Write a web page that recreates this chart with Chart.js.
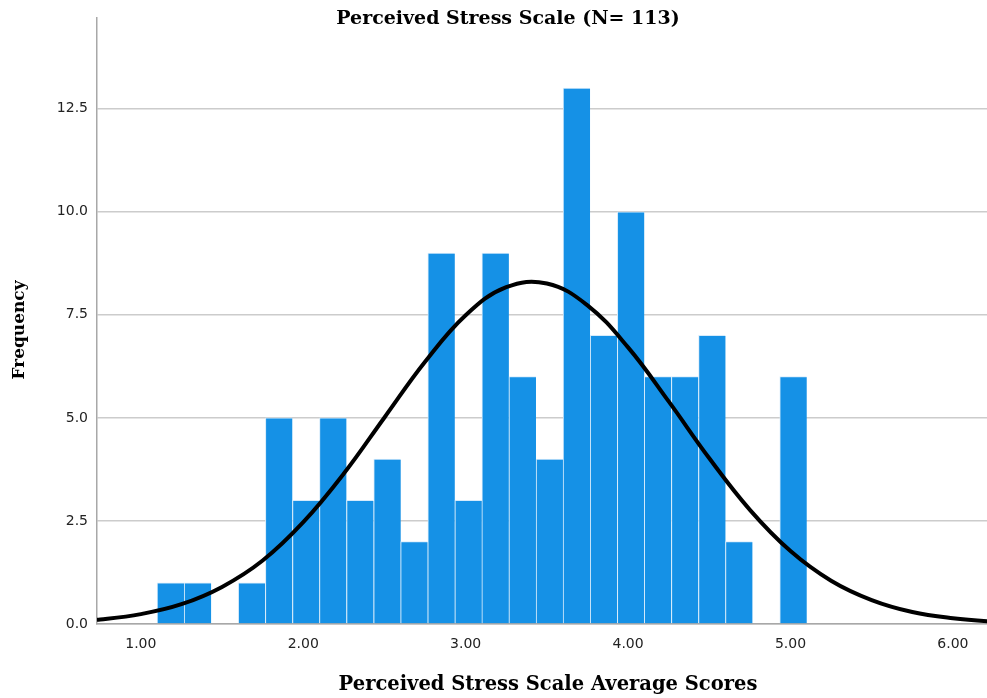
<!DOCTYPE html>
<html>
<head>
<meta charset="utf-8">
<script src="https://cdn.jsdelivr.net/npm/chart.js@4.4.1/dist/chart.umd.min.js"></script>
<style>
  html, body { margin: 0; padding: 0; background: #fff; }
  #wrap { width: 987px; height: 698px; }
</style>
</head>
<body>
<div id="wrap"><canvas id="chart"></canvas></div>
<script>
// histogram bins (centres, width 1/6 from 1.10 to 5.10)
const binCentres = [1.183, 1.350, 1.517, 1.683, 1.850, 2.017, 2.183, 2.350,
  2.517, 2.683, 2.850, 3.017, 3.183, 3.350, 3.517, 3.683, 3.850, 4.017,
  4.183, 4.350, 4.517, 4.683, 4.850, 5.017];
const frequencies = [1, 1, 0, 1, 5, 3, 5, 3, 4, 2, 9, 3, 9, 6, 4, 13, 7, 10,
  6, 6, 7, 2, 0, 6];

// normal curve
const curveX = [0.50, 0.75, 1.00, 1.25, 1.50, 1.75, 2.00, 2.25, 2.50, 2.75,
  3.00, 3.25, 3.50, 3.75, 4.00, 4.25, 4.50, 4.75, 5.00, 5.25, 5.50, 5.75,
  6.00, 6.25, 6.50];
const curveY = [0.03, 0.11, 0.24, 0.48, 0.90, 1.54, 2.47, 3.65, 5.01, 6.36,
  7.49, 8.17, 8.26, 7.73, 6.71, 5.40, 4.02, 2.77, 1.77, 1.05, 0.58, 0.29,
  0.14, 0.06, 0.02];

const xTicks = [1, 2, 3, 4, 5, 6];
const yTicks = [0, 2.5, 5, 7.5, 10, 12.5];

const titleText = 'Perceived Stress Scale (N= 113)';
const xTitleText = 'Perceived Stress Scale Average Scores';
const yTitleText = 'Frequency';

const textPlugin = {
  id: 'spssText',
  afterDraw(chart) {
    const ctx = chart.ctx;
    ctx.save();
    ctx.fillStyle = '#000';
    ctx.textAlign = 'center';
    ctx.textBaseline = 'middle';
    ctx.font = 'bold 19px "DejaVu Serif"';
    ctx.fillText(titleText, 508, 19);
    ctx.font = 'bold 19.5px "DejaVu Serif"';
    ctx.fillText(xTitleText, 548, 685);
    ctx.font = 'bold 17px "DejaVu Serif"';
    ctx.translate(20, 330);
    ctx.rotate(-Math.PI / 2);
    ctx.fillText(yTitleText, 0, 0);
    ctx.restore();
  }
};

new Chart(document.getElementById('chart'), {
  type: 'bar',
  data: {
    datasets: [
      {
        type: 'line',
        data: curveX.map((x, i) => ({ x: x, y: curveY[i] })),
        borderColor: '#000',
        borderWidth: 4,
        pointRadius: 0,
        tension: 0.4,
        fill: false,
        order: 0
      },
      {
        type: 'bar',
        data: binCentres.map((x, i) => ({ x: x, y: frequencies[i] })),
        backgroundColor: '#1591E6',
        borderColor: '#d6ebfb',
        borderWidth: { top: 1, left: 1, right: 0, bottom: 0 },
        borderSkipped: false,
        barPercentage: 1,
        categoryPercentage: 1,
        order: 1
      }
    ]
  },
  options: {
    responsive: true,
    maintainAspectRatio: false,
    animation: false,
    layout: { padding: { top: 18, right: 0, left: 0, bottom: 0 } },
    plugins: {
      legend: { display: false },
      tooltip: { enabled: false },
      title: { display: false }
    },
    scales: {
      x: {
        type: 'linear',
        offset: false,
        min: 0.73,
        max: 6.21,
        afterFit: s => { s.height = 74; },
        afterBuildTicks: s => { s.ticks = xTicks.map(v => ({ value: v })); },
        grid: { display: false, drawTicks: false },
        border: { color: '#a8a8a8', width: 1.5 },
        ticks: {
          padding: 12,
          color: '#222',
          font: { family: 'DejaVu Sans', size: 14 },
          callback: v => v.toFixed(2)
        }
      },
      y: {
        min: 0,
        max: 14.7,
        afterFit: s => { s.width = 97; },
        afterBuildTicks: s => { s.ticks = yTicks.map(v => ({ value: v })); },
        grid: { color: '#cccccc', lineWidth: 1.5, drawTicks: false },
        border: { color: '#a8a8a8', width: 1.5 },
        ticks: {
          padding: 9,
          color: '#222',
          font: { family: 'DejaVu Sans', size: 14 },
          callback: v => v.toFixed(1)
        }
      }
    }
  },
  plugins: [textPlugin]
});
</script>
</body>
</html>
